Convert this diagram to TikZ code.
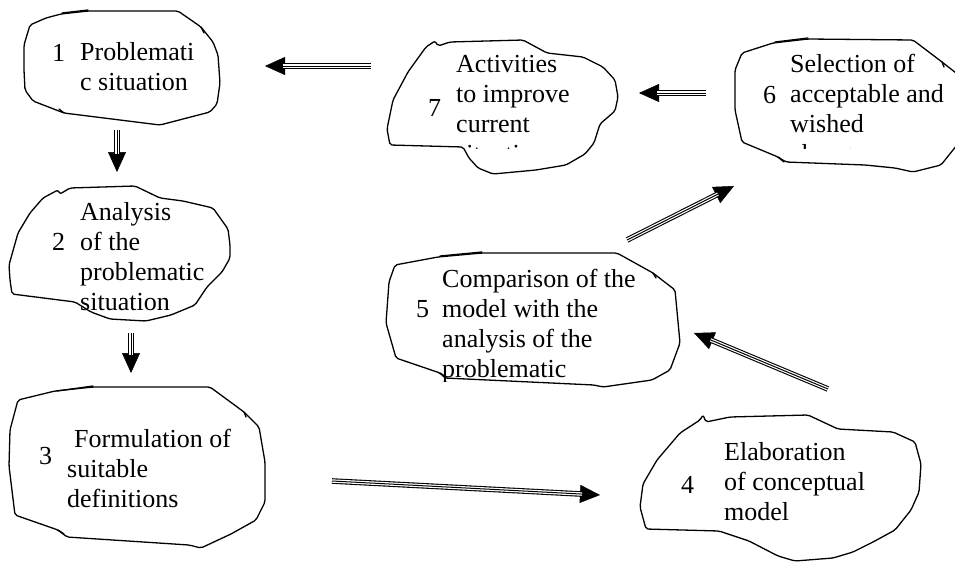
\documentclass[tikz,border=0pt]{standalone}
\usepackage{fontspec}
\setmainfont{Liberation Serif}
\usetikzlibrary{arrows.meta}

\tikzset{
  outline/.style={line width=1.3pt, line join=round, rounded corners=2pt},
  spur/.style={line width=1.3pt, line cap=round},
  txt/.style={anchor=base west, inner sep=0pt, font=\fontsize{26}{30}\selectfont},
  tiphead/.style={line width=0.5pt, -{Triangle[length=20pt,width=18pt]}},
  shaftout/.style={line width=5.6pt, shorten >=19pt},
  shaftgap/.style={white, line width=3.4pt, shorten >=18pt, shorten <=-0.5pt},
  shaftmid/.style={line width=1pt, shorten >=18pt}
}

% three-line connector with a solid triangular head
\newcommand\tripleconn[2]{%
  \draw[tiphead] (#1) -- (#2);
  \draw[shaftout] (#1) -- (#2);
  \draw[shaftgap] (#1) -- (#2);
  \draw[shaftmid] (#1) -- (#2);
}

\begin{document}
\begin{tikzpicture}[x=1pt,y=-1pt]
\useasboundingbox (0,0) rectangle (955,562);
\clip (0,0) rectangle (955,562);

% ---------- box 1 ----------
\draw[outline] (30,25) -- (46,18) -- (61,14) -- (88,11) -- (178,11) -- (201,27)
  -- (213,42) -- (218,55) -- (220,83) -- (217,104) -- (210,112) -- (183,119)
  -- (160,125) -- (64,113) -- (33,101) -- (25,90) -- (24,70) -- (24,45) -- cycle;
\draw[spur] (62,13) -- (88,10);
\draw[spur] (201,27) -- (204,33);
\draw[spur] (64,113) -- (59,109);
\node[txt] (n1) at (52,61) {1};
\node[txt] (b1a) at (80,60) {Problemati};
\node[txt] (b1b) at (80,90) {c situation};

% ---------- box 2 ----------
\draw[outline] (43,198) -- (58,190) -- (60,194) -- (70,188) -- (135,186) -- (160,198)
  -- (183,201) -- (213,208) -- (228,229) -- (230,245) -- (230,258) -- (222,272)
  -- (207,287) -- (195,305) -- (171,315) -- (146,321) -- (110,319)
  -- (91,312) -- (75,302) -- (12,294) -- (10,280) -- (9,265)
  -- (18,233) -- (30,213) -- cycle;
\node[txt] (n2) at (52,250) {2};
\node[txt] (b2a) at (80,220) {Analysis};
\node[txt] (b2b) at (80,250) {of the};
\node[txt] (b2c) at (80,280) {problematic};
\node[txt] (b2d) at (80,310) {situation};

% ---------- box 3 ----------
\draw[outline] (18,400) -- (55,391) -- (93,387) -- (210,387) -- (244,412) -- (259,427)
  -- (265,462) -- (265,502) -- (256,520) -- (231,534) -- (201,548) -- (189,545)
  -- (67,537) -- (58,530) -- (15,515) -- (9,466) -- (10,430) -- cycle;
\draw[spur] (57,391) -- (93,386);
\draw[spur] (244,412) -- (246,417);
\draw[spur] (58,530) -- (64,534);
\node[txt] (n3) at (39,464) {3};
\node[txt] (b3a) at (74,447) {Formulation of};
\node[txt] (b3b) at (67,477) {suitable};
\node[txt] (b3c) at (67,507) {definitions};

% ---------- box 4 ----------
\draw[outline] (640,507) -- (643,484) -- (657,460) -- (680,433) -- (700,420) -- (703,415)
  -- (706,422) -- (730,417) -- (808,415) -- (838,429) -- (893,432) -- (915,442)
  -- (921,464) -- (919,492) -- (911,510) -- (895,530) -- (873,542) -- (853,552)
  -- (833,558) -- (795,561) -- (778,556) -- (749,541) -- (719,531) -- (646,529) -- cycle;
\node[txt] (n4) at (681,493) {4};
\node[txt] (b4a) at (724,460) {Elaboration};
\node[txt] (b4b) at (724,490) {of conceptual};
\node[txt] (b4c) at (724,520) {model};

% ---------- box 5 ----------
\draw[outline] (395,265) -- (438,257) -- (482,253) -- (617,253) -- (653,273) -- (675,290)
  -- (680,343) -- (670,370) -- (652,380) -- (603,387) -- (594,385) -- (445,378)
  -- (440,373) -- (396,358) -- (386,323) -- (389,282) -- cycle;
\draw[spur] (440,256) -- (482,252);
\draw[spur] (653,273) -- (656,278);
\draw[spur] (440,373) -- (446,377);
\node[txt] (n5) at (416,317) {5};
\begin{scope}
  \clip (380,240) rectangle (700,381);
  \node[txt] (b5a) at (442,287) {Comparison of the};
  \node[txt] (b5b) at (442,317) {model with the};
  \node[txt] (b5c) at (442,347) {analysis of the};
  \node[txt] (b5d) at (442,377) {problematic};
\end{scope}

% ---------- box 6 ----------
\draw[outline] (742,53) -- (773,43) -- (808,39) -- (913,40) -- (942,62) -- (965,80)
  -- (965,135) -- (953,150) -- (941,165) -- (913,172) -- (895,168) -- (865,165)
  -- (786,162) -- (778,157) -- (742,142) -- (735,110) -- (735,70) -- cycle;
\draw[spur] (775,42) -- (808,38);
\draw[spur] (942,62) -- (944,67);
\draw[spur] (778,157) -- (784,162);
\node[txt] (n6) at (763,103) {6};
\begin{scope}
  \clip (730,30) rectangle (960,148.5);
  \node[txt] (b6a) at (790,72) {Selection of};
  \node[txt] (b6b) at (790,102) {acceptable and};
  \node[txt] (b6c) at (790,132) {wished};
  \node[txt] (b6d) at (790,162) {changes};
\end{scope}

% ---------- box 7 ----------
\draw[outline] (426,47) -- (435,41) -- (438,46) -- (450,42) -- (523,40) -- (547,53)
  -- (583,57) -- (603,67) -- (615,80) -- (618,97) -- (615,111) -- (600,124)
  -- (594,143) -- (585,154) -- (566,165) -- (536,170) -- (493,174) -- (478,168)
  -- (469,158) -- (463,147) -- (390,145) -- (387,129) -- (393,100) -- (408,72) -- cycle;
\node[txt] (n7) at (428,116) {7};
\begin{scope}
  \clip (380,30) rectangle (620,148.5);
  \node[txt] (b7a) at (456,72) {Activities};
  \node[txt] (b7b) at (456,102) {to improve};
  \node[txt] (b7c) at (456,132) {current};
  \node[txt] (b7d) at (456,162) {situation};
\end{scope}

% ---------- connectors ----------
\coordinate (c12s) at (117,130);  \coordinate (c12e) at (117,172);
\coordinate (c23s) at (131,333);  \coordinate (c23e) at (131,373);
\coordinate (c34s) at (332,481);  \coordinate (c34e) at (600,495);
\coordinate (c45s) at (828,389);  \coordinate (c45e) at (694,333);
\coordinate (c56s) at (627,240);  \coordinate (c56e) at (734,186);
\coordinate (c67s) at (706,93);   \coordinate (c67e) at (639,93);
\coordinate (c71s) at (371,66);   \coordinate (c71e) at (265,66);

\tripleconn{c12s}{c12e}
\tripleconn{c23s}{c23e}
\tripleconn{c34s}{c34e}
\tripleconn{c45s}{c45e}
\tripleconn{c56s}{c56e}
\tripleconn{c67s}{c67e}
\tripleconn{c71s}{c71e}
\end{tikzpicture}
\end{document}
